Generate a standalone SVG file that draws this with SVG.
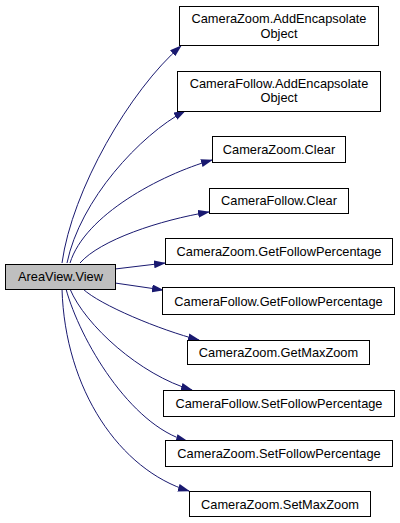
<svg xmlns="http://www.w3.org/2000/svg" width="400" height="523" viewBox="0 0 400 523">
<defs>
<marker id="arr" viewBox="0 0 12 8" refX="11" refY="4" markerWidth="12" markerHeight="8" markerUnits="userSpaceOnUse" orient="auto">
<path d="M0,0 L12,4 L0,8 z" fill="#191970"/>
</marker>
<style>
.n rect{fill:#fff;stroke:#000;stroke-width:1}
#n0 rect{fill:#bfbfbf}
.n text{font-family:"Liberation Sans",Arial,sans-serif;font-size:12.8px;fill:#000;text-anchor:middle}
.e path{fill:none;stroke:#191970;stroke-width:1;marker-end:url(#arr)}
</style>
</defs>
<rect width="400" height="523" fill="#fff"/>
<g id="edges" class="e">
<path d="M62,263 C72,190 130,90 181,46"/>
<path d="M67,263 C80,200 140,135 185,111"/>
<path d="M70,263 C85,215 160,175 212,160"/>
<path d="M80,263 C100,240 160,220 209,212"/>
<path d="M115,269 L165,263"/>
<path d="M115,283 L163,290"/>
<path d="M83,289 C100,305 160,330 199,340"/>
<path d="M70,289 C85,325 140,375 192,390"/>
<path d="M66,289 C80,340 130,425 187,441"/>
<path d="M62,289 C65,390 120,470 189,491"/>
</g>
<g id="n0" class="n"><rect x="5.5" y="264.5" width="110" height="25"/><text x="60.5" y="281">AreaView.View</text></g>
<g id="n1" class="n"><rect x="179.5" y="6.5" width="199" height="39"/><text x="279" y="23">CameraZoom.AddEncapsolate</text><text x="279" y="37.5">Object</text></g>
<g id="n2" class="n"><rect x="177.5" y="71.5" width="203" height="40"/><text x="279" y="87.5">CameraFollow.AddEncapsolate</text><text x="279" y="102">Object</text></g>
<g id="n3" class="n"><rect x="212.5" y="136.5" width="133" height="26"/><text x="279" y="153.5">CameraZoom.Clear</text></g>
<g id="n4" class="n"><rect x="209.5" y="188.5" width="139" height="25"/><text x="279" y="205">CameraFollow.Clear</text></g>
<g id="n5" class="n"><rect x="165.5" y="238.5" width="227" height="26"/><text x="279" y="256">CameraZoom.GetFollowPercentage</text></g>
<g id="n6" class="n"><rect x="162.5" y="287.5" width="232" height="27"/><text x="278.5" y="305.5">CameraFollow.GetFollowPercentage</text></g>
<g id="n7" class="n"><rect x="187.5" y="340.5" width="182" height="24"/><text x="278.5" y="357">CameraZoom.GetMaxZoom</text></g>
<g id="n8" class="n"><rect x="163.5" y="390.5" width="231" height="26"/><text x="279" y="407.5">CameraFollow.SetFollowPercentage</text></g>
<g id="n9" class="n"><rect x="165.5" y="440.5" width="227" height="26"/><text x="279" y="458">CameraZoom.SetFollowPercentage</text></g>
<g id="n10" class="n"><rect x="189.5" y="491.5" width="181" height="25"/><text x="280" y="508.5">CameraZoom.SetMaxZoom</text></g>
</svg>
